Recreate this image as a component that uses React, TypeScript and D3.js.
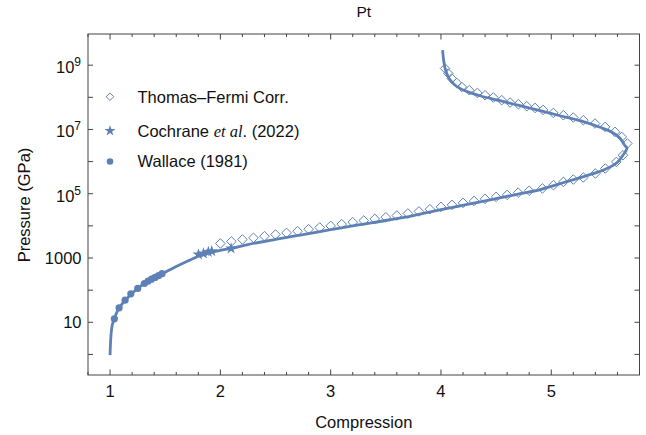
import React from "react";
import * as d3 from "d3";

// solid curve (compression, pressure in GPa)
const lineCompression = [
  1.0, 1.004, 1.01, 1.02, 1.04, 1.08, 1.14, 1.2, 1.3, 1.4, 1.5, 1.6, 1.7, 1.8, 1.9, 2.0, 2.1, 2.25, 2.5, 2.75,
  3.0, 3.25, 3.5, 3.75, 4.0, 4.25, 4.5, 4.7, 4.9, 5.17, 5.35, 5.49, 5.6, 5.65, 5.686, 5.665, 5.624, 5.551,
  5.442, 5.261, 5.08, 4.898, 4.717, 4.536, 4.354, 4.218, 4.128, 4.073, 4.042, 4.024, 4.015,
];
const linePressure = [
  0.95, 2.2, 4.6, 8.2, 13.5, 27.5, 49, 80, 153, 254, 363, 540, 790, 1130, 1440, 1730, 1980, 2630, 3810, 5380,
  7590, 10700, 14700, 21000, 31800, 47100, 69900, 97900, 1.35e5, 2.55e5, 3.91e5, 5.79e5, 9.57e5, 1.58e6,
  2.61e6, 3.24e6, 5.35e6, 8.2e6, 1.17e7, 1.87e7, 2.67e7, 3.83e7, 5.48e7, 7.84e7, 1.12e8, 1.6e8, 2.38e8,
  3.93e8, 6.97e8, 1.43e9, 2.92e9,
];

// Thomas-Fermi corrected points (open diamonds)
const tfCompression = [
  2.0, 2.1, 2.2, 2.3, 2.4, 2.5, 2.6, 2.7, 2.8, 2.9, 3.0, 3.1, 3.2, 3.3, 3.4, 3.5, 3.6, 3.7, 3.8, 3.9, 4.0, 4.1,
  4.2, 4.3, 4.4, 4.5, 4.6, 4.7, 4.8, 4.92, 5.02, 5.11, 5.2, 5.29, 5.4, 5.49, 5.59, 5.65, 5.69, 5.639, 5.578,
  5.488, 5.397, 5.291, 5.2, 5.11, 5.019, 4.926, 4.853, 4.778, 4.702, 4.627, 4.551, 4.475, 4.4, 4.33, 4.257,
  4.189, 4.143, 4.098, 4.067, 4.037,
];
const tfPressure = [
  2830, 3270, 3780, 4240, 4780, 5400, 6050, 6840, 7890, 8910, 1.0e4, 1.13e4, 1.3e4, 1.47e4, 1.65e4, 1.86e4,
  2.1e4, 2.43e4, 2.81e4, 3.3e4, 3.9e4, 4.5e4, 5.19e4, 5.98e4, 6.92e4, 7.98e4, 9.2e4, 1.08e5, 1.24e5, 1.46e5,
  1.85e5, 2.33e5, 2.77e5, 3.2e5, 4.27e5, 6.1e5, 9.77e5, 1.58e6, 3.66e6, 5.86e6, 8.39e6, 1.2e7, 1.53e7,
  1.94e7, 2.35e7, 2.77e7, 3.27e7, 4.06e7, 4.68e7, 5.28e7, 6.1e7, 6.89e7, 8.13e7, 9.86e7, 1.16e8, 1.37e8,
  1.66e8, 2.1e8, 2.81e8, 3.85e8, 5.5e8, 7.87e8,
];

// Cochrane et al. (2022) stars
const cochraneCompression = [1.801, 1.846, 1.891, 1.922, 2.097];
const cochranePressure = [1290, 1380, 1550, 1630, 1980];

// Wallace (1981) dots
const wallaceCompression = [1.039, 1.082, 1.136, 1.188, 1.251, 1.311, 1.345, 1.376, 1.408, 1.44, 1.471];
const wallacePressure = [12.8, 28.1, 48.9, 76.7, 113, 161, 191, 220, 248, 282, 326];

const xMajorTicks = [1, 2, 3, 4, 5];
const yDecades = [1, 10, 100, 1e3, 1e4, 1e5, 1e6, 1e7, 1e8, 1e9];
const yLabelValues = [10, 1000, 1e5, 1e7, 1e9];
const yLabelBase = ["10", "1000", "10", "10", "10"];
const yLabelExp = ["", "", "5", "7", "9"];

const legendLabels = ["Thomas\u2013Fermi Corr.", "Cochrane", "Wallace (1981)"];

const W = 646;
const H = 435;
const left = 88;
const right = 639.5;
const top = 34;
const bottom = 375;
const blue = "#5e81b5";
const frameColor = "#444";
const textColor = "#111";
const font = "'Liberation Sans', Arial, sans-serif";

const x = d3.scaleLinear().domain([0.8, 5.8]).range([left, right]);
const y = d3.scaleLog().domain([Math.pow(10, -0.64), Math.pow(10, 9.97)]).range([bottom, top]);

const zip = (a: number[], b: number[]) => a.map((v, i) => [v, b[i]] as [number, number]);

const diamond = (r: number) => `M0,${-r}L${r},0L0,${r}L${-r},0Z`;
const star = (size: number) => d3.symbol(d3.symbolStar, size)() as string;

export default function App() {
  const line = d3
    .line<[number, number]>()
    .x((d) => x(d[0]))
    .y((d) => y(d[1]))
    .curve(d3.curveCatmullRom.alpha(0.5));

  const xMinor = d3.range(0.8, 5.81, 0.2).filter((v) => Math.abs(v - Math.round(v)) > 0.01);

  return (
    <svg
      width={W}
      height={H}
      style={{ position: "absolute", left: 0, top: 0, background: "#fff" }}
      fontFamily={font}
    >
      <text x={(left + right) / 2} y={17} textAnchor="middle" fontSize={15.5} fill={textColor}>
        Pt
      </text>

      {/* Thomas-Fermi diamonds */}
      <g fill="none" stroke={blue} strokeWidth={1}>
        {zip(tfCompression, tfPressure).map((d, i) => (
          <path key={i} d={diamond(4.8)} transform={`translate(${x(d[0])},${y(d[1])})`} />
        ))}
      </g>

      <path
        d={line(zip(lineCompression, linePressure)) as string}
        fill="none"
        stroke={blue}
        strokeWidth={2.8}
        strokeLinejoin="round"
      />

      <g fill={blue}>
        {zip(wallaceCompression, wallacePressure).map((d, i) => (
          <circle key={i} cx={x(d[0])} cy={y(d[1])} r={3.6} />
        ))}
        {zip(cochraneCompression, cochranePressure).map((d, i) => (
          <path key={i} d={star(44)} transform={`translate(${x(d[0])},${y(d[1])})`} />
        ))}
      </g>

      {/* frame */}
      <rect
        x={left}
        y={top}
        width={right - left}
        height={bottom - top}
        fill="none"
        stroke={frameColor}
        strokeWidth={1}
      />

      {/* ticks on all four sides, pointing inward */}
      <g stroke={frameColor} strokeWidth={1}>
        {xMajorTicks.map((t) => (
          <g key={"M" + t}>
            <line x1={x(t)} x2={x(t)} y1={bottom} y2={bottom - 5.5} />
            <line x1={x(t)} x2={x(t)} y1={top} y2={top + 5.5} />
          </g>
        ))}
        {xMinor.map((t, i) => (
          <g key={"m" + i}>
            <line x1={x(t)} x2={x(t)} y1={bottom} y2={bottom - 3} />
            <line x1={x(t)} x2={x(t)} y1={top} y2={top + 3} />
          </g>
        ))}
        {yDecades.map((t) => (
          <g key={"y" + t}>
            <line x1={left} x2={left + 5} y1={y(t)} y2={y(t)} />
            <line x1={right} x2={right - 5} y1={y(t)} y2={y(t)} />
          </g>
        ))}
      </g>

      <g fill={textColor} fontSize={16.5}>
        {xMajorTicks.map((t) => (
          <text key={t} x={x(t)} y={397} textAnchor="middle">
            {t}
          </text>
        ))}
        {yLabelValues.map((v, i) =>
          yLabelExp[i] ? (
            <text key={v} x={81} y={y(v) + 8} textAnchor="end">
              {yLabelBase[i]}
              <tspan dy={-7} fontSize={12}>
                {yLabelExp[i]}
              </tspan>
            </text>
          ) : (
            <text key={v} x={81.5} y={y(v) + 5.5} textAnchor="end">
              {yLabelBase[i]}
            </text>
          )
        )}
        <text x={(left + right) / 2} y={428} textAnchor="middle">
          Compression
        </text>
        <text transform="translate(29.5,205) rotate(-90)" textAnchor="middle">
          Pressure (GPa)
        </text>
      </g>

      {/* legend */}
      <g>
        <path d={diamond(3.8)} transform="translate(110,96.7)" fill="none" stroke={blue} strokeWidth={1} />
        <path d={star(38)} transform="translate(110,130.7)" fill={blue} />
        <circle cx={110} cy={161.5} r={3.3} fill={blue} />
        <g fill={textColor} fontSize={16.5}>
          <text x={137.5} y={102.5}>
            {legendLabels[0]}
          </text>
          <text x={137.5} y={136.5}>
            {legendLabels[1] + " "}
            <tspan fontFamily="'Liberation Serif', 'Times New Roman', serif" fontStyle="italic">
              et al
            </tspan>
            . (2022)
          </text>
          <text x={137.5} y={167}>
            {legendLabels[2]}
          </text>
        </g>
      </g>
    </svg>
  );
}
